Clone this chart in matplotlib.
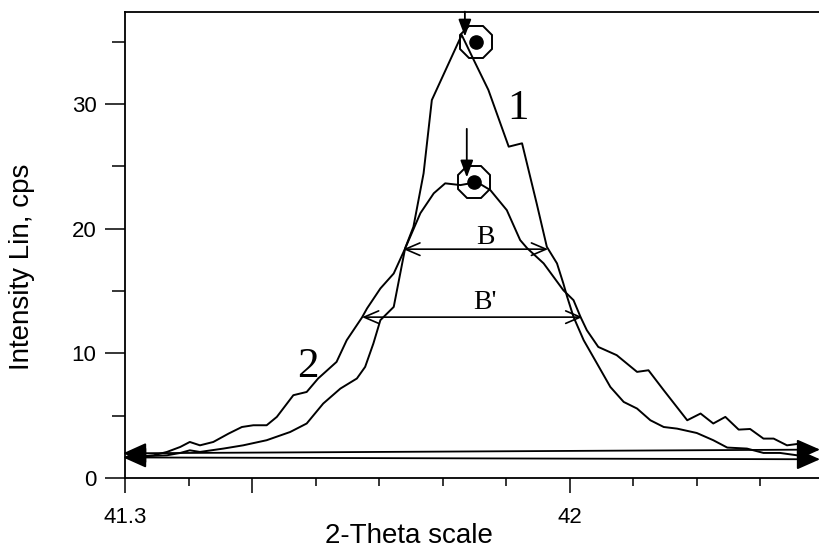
import matplotlib
matplotlib.use("Agg")
import matplotlib.pyplot as plt
from matplotlib.ticker import FixedLocator, MultipleLocator

# curve 1: narrow, tall peak (2-theta, intensity cps)
THETA_1 = [41.324, 41.366, 41.387, 41.402, 41.418, 41.455, 41.486, 41.523, 41.560,
           41.586, 41.612, 41.639, 41.665, 41.678, 41.691, 41.702, 41.723, 41.741,
           41.754, 41.770, 41.783, 41.830, 41.849, 41.872, 41.904, 41.925, 41.948,
           41.964, 41.980, 41.990, 41.996, 42.006, 42.022, 42.043, 42.064, 42.085,
           42.106, 42.127, 42.148, 42.169, 42.200, 42.226, 42.248, 42.279, 42.305,
           42.331, 42.358, 42.384]
INT_1 = [1.74, 1.82, 2.01, 2.22, 2.09, 2.36, 2.62, 3.03, 3.69,
         4.37, 5.97, 7.17, 7.98, 8.91, 10.79, 12.66, 13.72, 18.43,
         20.14, 24.43, 30.31, 35.53, 33.52, 31.12, 26.57, 26.84, 22.02,
         18.54, 17.21, 15.60, 14.53, 12.92, 11.05, 9.18, 7.30, 6.10,
         5.57, 4.63, 4.09, 3.96, 3.61, 3.03, 2.44, 2.36, 2.01,
         2.01, 1.82, 1.56]

# curve 2: broad, lower peak
THETA_2 = [41.324, 41.345, 41.366, 41.387, 41.402, 41.418, 41.439, 41.463, 41.484,
           41.502, 41.523, 41.539, 41.565, 41.586, 41.604, 41.633, 41.649, 41.673,
           41.681, 41.702, 41.723, 41.741, 41.765, 41.786, 41.804, 41.828, 41.854,
           41.875, 41.901, 41.922, 41.933, 41.959, 41.990, 42.006, 42.017, 42.027,
           42.045, 42.074, 42.106, 42.124, 42.148, 42.185, 42.206, 42.226, 42.245,
           42.266, 42.284, 42.305, 42.321, 42.342, 42.363, 42.384]
INT_2 = [1.74, 1.82, 2.09, 2.49, 2.89, 2.62, 2.89, 3.56, 4.09,
         4.23, 4.23, 4.90, 6.64, 6.90, 7.98, 9.31, 11.05, 12.87,
         13.60, 15.20, 16.40, 18.41, 21.24, 22.83, 23.63, 23.49, 23.73,
         23.09, 21.48, 19.08, 18.43, 17.21, 15.06, 14.26, 12.92, 11.85,
         10.51, 9.85, 8.51, 8.64, 7.04, 4.63, 5.17, 4.37, 4.90,
         3.88, 3.93, 3.16, 3.16, 2.62, 2.76, 2.36]

PEAKS_THETA = [41.852, 41.850]
PEAKS_INT = [35.0, 23.7]

# half-width arrows: (label, left, right, level)
WIDTHS = [("B", 41.738, 41.966, 18.35), ("B'", 41.673, 42.020, 12.9)]
# background lines (start, end)
BASELINES = [((41.297, 1.98), (42.394, 2.28)), ((41.297, 1.65), (42.394, 1.50))]
# vertical peak arrows (x, y_from, y_to)
PEAK_ARROWS = [(41.835, 37.4, 35.4), (41.838, 28.0, 24.1)]

XMIN, XMAX = 41.3, 42.394
YMIN, YMAX = 0, 37.37

SANS = ["Liberation Sans", "DejaVu Sans"]
SERIF = ["Liberation Serif", "DejaVu Serif"]

fig = plt.figure(figsize=(8.2, 5.51), dpi=100)
ax = fig.add_axes([125 / 820, 1 - 478 / 551, 1 - 125 / 820, (478 - 12) / 551])

ax.plot(THETA_1, INT_1, color="black", lw=1.4)
ax.plot(THETA_2, INT_2, color="black", lw=1.4)

ax.plot(PEAKS_THETA, PEAKS_INT, linestyle="none", marker="8", ms=25,
        mfc="none", mec="black", mew=1.4)
ax.plot(PEAKS_THETA, PEAKS_INT, linestyle="none", marker="o", ms=9.5, color="black")

for x, y0, y1 in PEAK_ARROWS:
    ax.annotate("", xy=(x, y1), xytext=(x, y0),
                arrowprops=dict(arrowstyle="-|>,head_length=0.8,head_width=0.3",
                                mutation_scale=13, color="black", lw=1.3,
                                shrinkA=0, shrinkB=0), annotation_clip=False)

for (x0, y0), (x1, y1) in BASELINES:
    ax.annotate("", xy=(x1, y1), xytext=(x0, y0),
                arrowprops=dict(arrowstyle="<|-|>,head_length=0.9,head_width=0.4",
                                mutation_scale=16, color="black", lw=1.3,
                                shrinkA=0, shrinkB=0), annotation_clip=False)

for label, x0, x1, y in WIDTHS:
    ax.annotate("", xy=(x1, y), xytext=(x0, y),
                arrowprops=dict(arrowstyle="<->,head_length=0.7,head_width=0.3",
                                mutation_scale=15, color="black", lw=1.2,
                                shrinkA=0, shrinkB=0))
    ax.text(41.867, y + 0.95 if label == "B" else y + 1.15, label, ha="center",
            va="center", fontsize=20, family=SERIF)

ax.text(41.919, 29.6, "1", ha="center", va="center", fontsize=31, family=SERIF)
ax.text(41.588, 8.96, "2", ha="center", va="center", fontsize=31, family=SERIF)

ax.set_xlim(XMIN, XMAX)
ax.set_ylim(YMIN, YMAX)

ax.xaxis.set_major_locator(FixedLocator([41.3, 41.5, 42.0]))
ax.set_xticklabels(["41.3", "", "42"])
ax.xaxis.set_minor_locator(MultipleLocator(0.1))
ax.yaxis.set_major_locator(MultipleLocator(10))
ax.yaxis.set_minor_locator(MultipleLocator(5))

ax.tick_params(axis="x", which="major", length=11, width=1.1, pad=10, labelsize=16)
ax.tick_params(axis="x", which="minor", length=6, width=1.1)
ax.tick_params(axis="y", which="major", length=14.5, width=1.1, pad=6, labelsize=16)
ax.tick_params(axis="y", which="minor", length=9.5, width=1.1)
for lab in ax.get_xticklabels() + ax.get_yticklabels():
    lab.set_family(SANS)

ax.spines["right"].set_visible(False)
for side in ["left", "top", "bottom"]:
    ax.spines[side].set_linewidth(1.3)

fig.text(22 / 820, 1 - 267 / 551, "Intensity Lin, cps", rotation=90,
         ha="center", va="center", fontsize=20, family=SANS)
fig.text(409 / 820, 1 - 536 / 551, "2-Theta scale", ha="center", va="center",
         fontsize=20, family=SANS)

fig.savefig("out.png", dpi=100)
